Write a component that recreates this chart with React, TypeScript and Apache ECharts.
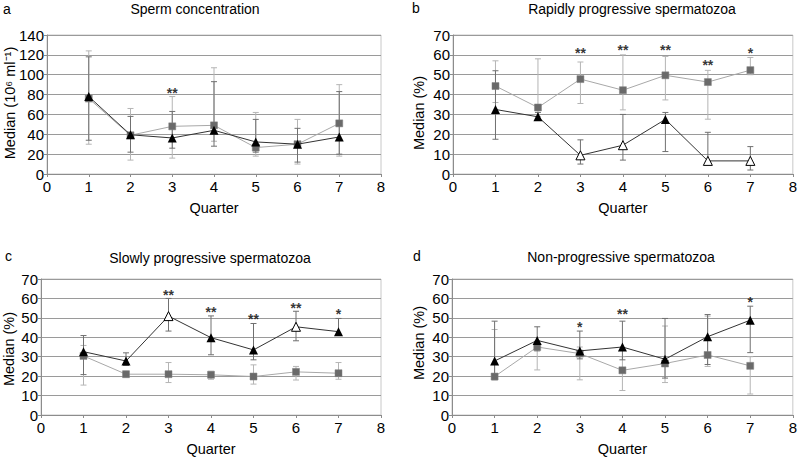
import React, { useEffect, useRef } from "react";
import * as echarts from "echarts";

const quarters = [1, 2, 3, 4, 5, 6, 7];

// Panel a: Sperm concentration
const concGray = [76, 39, 48, 49, 26.6, 30, 51];
const concBlack = [78, 39.5, 36.3, 44, 32.3, 30, 37.3];
const concGrayLo = [30, 14, 16, 33, 18, 10, 18];
const concGrayHi = [124, 66, 78, 107, 62, 55, 90];
const concBlackLo = [34, 22, 26, 28, 22, 12, 20];
const concBlackHi = [118, 58, 63, 93, 55, 46, 83];
const concOpen = [false, false, false, false, false, false, false];
const concStarQ = [3];
const concStarY = [85];
const concStarT = ["**"];

// Panel b: Rapidly progressive
const rapidGray = [44.3, 33.5, 47.8, 42.2, 49.7, 46.3, 52.3];
const rapidBlack = [32.5, 28.8, 9.4, 14.5, 27.5, 6.6, 6.6];
const rapidGrayLo = [36, 29, 35.5, 32.3, 37.3, 27.6, 50];
const rapidGrayHi = [57, 58, 56.4, 60, 59.2, 52.2, 58.7];
const rapidBlackLo = [17.5, 27, 5, 7, 11.3, 6, 2];
const rapidBlackHi = [52, 31, 17.2, 30, 31, 21, 13.8];
const rapidOpen = [false, false, true, true, false, true, true];
const rapidStarQ = [3, 4, 5, 6, 7];
const rapidStarY = [62.4, 63.9, 63.9, 56.2, 62.6];
const rapidStarT = ["**", "**", "**", "**", "*"];

// Panel c: Slowly progressive
const slowGray = [30.4, 21, 21, 20.7, 19.8, 22.2, 21.5];
const slowBlack = [32.6, 27.8, 50.9, 39.8, 33.5, 45.4, 42.9];
const slowGrayLo = [15.4, 19.5, 16.7, 18.4, 15.9, 18, 18.4];
const slowGrayHi = [35.8, 22.5, 27, 22.5, 25.8, 25, 27];
const slowBlackLo = [20.8, 25.5, 43.2, 31, 28.4, 38.2, 41];
const slowBlackHi = [40.9, 32, 60, 51, 47.1, 53.4, 49.7];
const slowOpen = [false, false, true, false, false, true, false];
const slowStarQ = [3, 4, 5, 6, 7];
const slowStarY = [63.3, 54.8, 50.9, 56.5, 53.6];
const slowStarT = ["**", "**", "**", "**", "*"];

// Panel d: Non-progressive
const nonGray = [19.8, 35, 31.6, 23, 26.5, 30.9, 25.3];
const nonBlack = [27.8, 38.4, 33, 35, 28.7, 40.3, 48.8];
const nonGrayLo = [18, 23.2, 18.1, 12.6, 16.7, 25, 10.8];
const nonGrayHi = [44, 38, 35, 30, 45.8, 50.9, 30];
const nonBlackLo = [21, 33, 28.9, 28.4, 19, 26, 32.1];
const nonBlackHi = [48.3, 45.4, 43.2, 48.3, 49.7, 51.7, 56];
const nonOpen = [false, false, false, false, false, false, false];
const nonStarQ = [3, 4, 7];
const nonStarY = [46.8, 53.6, 59.9];
const nonStarT = ["*", "**", "*"];

const panelLetters = ["a", "b", "c", "d"];
const panelTitles = [
  "Sperm concentration",
  "Rapidly progressive spermatozoa",
  "Slowly progressive spermatozoa",
  "Non-progressive spermatozoa",
];
const yNames = ["Median (10⁶ ml⁻¹)", "Median (%)", "Median (%)", "Median (%)"];
const yMax = [140, 70, 70, 70];
const yInterval = [20, 10, 10, 10];

const FONT = "'Liberation Sans', Arial, sans-serif";

const grids = [
  { left: 47, top: 35, width: 334, height: 139 },
  { left: 453, top: 35, width: 340, height: 139 },
  { left: 41, top: 279, width: 340, height: 137 },
  { left: 452, top: 279, width: 341, height: 137 },
];

const letterPos = [
  [3, 9],
  [412, 8],
  [5, 256],
  [413, 256],
];
const titlePos = [
  [195, 9],
  [632, 9],
  [210, 258],
  [621, 257],
];
const yNamePos = [
  [10, 103],
  [419, 113],
  [9, 349],
  [419, 343],
];

const panels = [
  { g: concGray, b: concBlack, gl: concGrayLo, gh: concGrayHi, bl: concBlackLo, bh: concBlackHi, open: concOpen, sq: concStarQ, sy: concStarY, st: concStarT },
  { g: rapidGray, b: rapidBlack, gl: rapidGrayLo, gh: rapidGrayHi, bl: rapidBlackLo, bh: rapidBlackHi, open: rapidOpen, sq: rapidStarQ, sy: rapidStarY, st: rapidStarT },
  { g: slowGray, b: slowBlack, gl: slowGrayLo, gh: slowGrayHi, bl: slowBlackLo, bh: slowBlackHi, open: slowOpen, sq: slowStarQ, sy: slowStarY, st: slowStarT },
  { g: nonGray, b: nonBlack, gl: nonGrayLo, gh: nonGrayHi, bl: nonBlackLo, bh: nonBlackHi, open: nonOpen, sq: nonStarQ, sy: nonStarY, st: nonStarT },
];

function errSeries(idx: number, lo: number[], hi: number[], color: string) {
  return {
    type: "custom",
    xAxisIndex: idx,
    yAxisIndex: idx,
    z: 1,
    silent: true,
    data: quarters.map((q, i) => [q, lo[i], hi[i]]),
    encode: { x: 0, y: [1, 2] },
    renderItem: (params: any, api: any) => {
      const x = api.value(0);
      const top = api.coord([x, api.value(2)]);
      const bot = api.coord([x, api.value(1)]);
      const w = 3;
      const style = { stroke: color, lineWidth: 1 };
      return {
        type: "group",
        children: [
          { type: "line", shape: { x1: top[0], y1: top[1], x2: bot[0], y2: bot[1] }, style },
          { type: "line", shape: { x1: top[0] - w, y1: top[1], x2: top[0] + w, y2: top[1] }, style },
          { type: "line", shape: { x1: bot[0] - w, y1: bot[1], x2: bot[0] + w, y2: bot[1] }, style },
        ],
      };
    },
  };
}

export default function App() {
  const ref = useRef<HTMLDivElement>(null);
  useEffect(() => {
    if (!ref.current) return;
    const chart = echarts.init(ref.current, undefined, { renderer: "svg" });
    const series: any[] = [];
    panels.forEach((p, idx) => {
      series.push(errSeries(idx, p.gl, p.gh, "#b5b5b5"));
      series.push(errSeries(idx, p.bl, p.bh, "#707070"));
      series.push({
        type: "line",
        xAxisIndex: idx,
        yAxisIndex: idx,
        z: 3,
        data: quarters.map((q, i) => [q, p.g[i]]),
        symbol: "rect",
        symbolSize: 7,
        showAllSymbol: true,
        lineStyle: { color: "#a8a8a8", width: 1 },
        itemStyle: { color: "#6a6a6a", borderColor: "#808080", borderWidth: 0.5 },
      });
      series.push({
        type: "line",
        xAxisIndex: idx,
        yAxisIndex: idx,
        z: 4,
        data: quarters.map((q, i) => ({
          value: [q, p.b[i]],
          itemStyle: p.open[i]
            ? { color: "#ffffff", borderColor: "#000000", borderWidth: 1 }
            : { color: "#000000" },
        })),
        symbol: "triangle",
        symbolSize: 9,
        showAllSymbol: true,
        lineStyle: { color: "#333333", width: 1 },
        itemStyle: { color: "#000000" },
      });
      series.push({
        type: "scatter",
        xAxisIndex: idx,
        yAxisIndex: idx,
        z: 5,
        symbolSize: 1,
        itemStyle: { color: "rgba(0,0,0,0)" },
        data: p.sq.map((q, i) => ({ value: [q, p.sy[i]], name: p.st[i] })),
        label: {
          show: true,
          position: "inside",
          formatter: (d: any) => d.name,
          color: "#000",
          fontSize: 14,
          fontWeight: "bold",
          fontFamily: FONT,
          offset: [0, 3],
        },
      });
    });

    const graphic: any[] = [];
    for (let i = 0; i < 4; i++) {
      graphic.push({
        type: "text",
        x: letterPos[i][0],
        y: letterPos[i][1],
        style: { text: panelLetters[i], fontSize: 14, fontFamily: FONT, fill: "#000", align: "left", verticalAlign: "middle" },
      });
      graphic.push({
        type: "text",
        x: titlePos[i][0],
        y: titlePos[i][1],
        style: { text: panelTitles[i], fontSize: 14, fontFamily: FONT, fill: "#000", align: "center", verticalAlign: "middle" },
      });
      graphic.push({
        type: "text",
        x: yNamePos[i][0],
        y: yNamePos[i][1],
        rotation: Math.PI / 2,
        style: { text: yNames[i], fontSize: 14.5, fontFamily: FONT, fill: "#000", align: "center", verticalAlign: "middle" },
      });
    }

    chart.setOption({
      animation: false,
      textStyle: { fontFamily: FONT },
      grid: grids.map((g) => ({ ...g, show: true, borderColor: "#c8c8c8", borderWidth: 1, backgroundColor: "transparent" })),
      xAxis: grids.map((_, i) => ({
        type: "value",
        gridIndex: i,
        min: 0,
        max: 8,
        interval: 1,
        name: "Quarter",
        nameLocation: "middle",
        nameGap: 26,
        nameTextStyle: { fontSize: 14.5, color: "#000", fontFamily: FONT },
        axisLine: { show: true, lineStyle: { color: "#8c8c8c", width: 1 } },
        axisTick: { show: true, length: 3, lineStyle: { color: "#8c8c8c" } },
        splitLine: { show: false },
        axisLabel: { fontSize: 15, color: "#000", margin: 5, fontFamily: FONT },
      })),
      yAxis: grids.map((_, i) => ({
        type: "value",
        gridIndex: i,
        min: 0,
        max: yMax[i],
        interval: yInterval[i],
        axisLine: { show: true, lineStyle: { color: "#8c8c8c", width: 1 } },
        axisTick: { show: true, length: 3, lineStyle: { color: "#8c8c8c" } },
        splitLine: { show: true, lineStyle: { color: "#9a9a9a", width: 1 } },
        axisLabel: { fontSize: 15, color: "#000", margin: 3, fontFamily: FONT },
      })),
      graphic,
      series,
    });
    return () => chart.dispose();
  }, []);
  return (
    <div
      ref={ref}
      style={{ position: "fixed", left: 0, top: 0, width: 800, height: 457, background: "#fff" }}
    />
  );
}
